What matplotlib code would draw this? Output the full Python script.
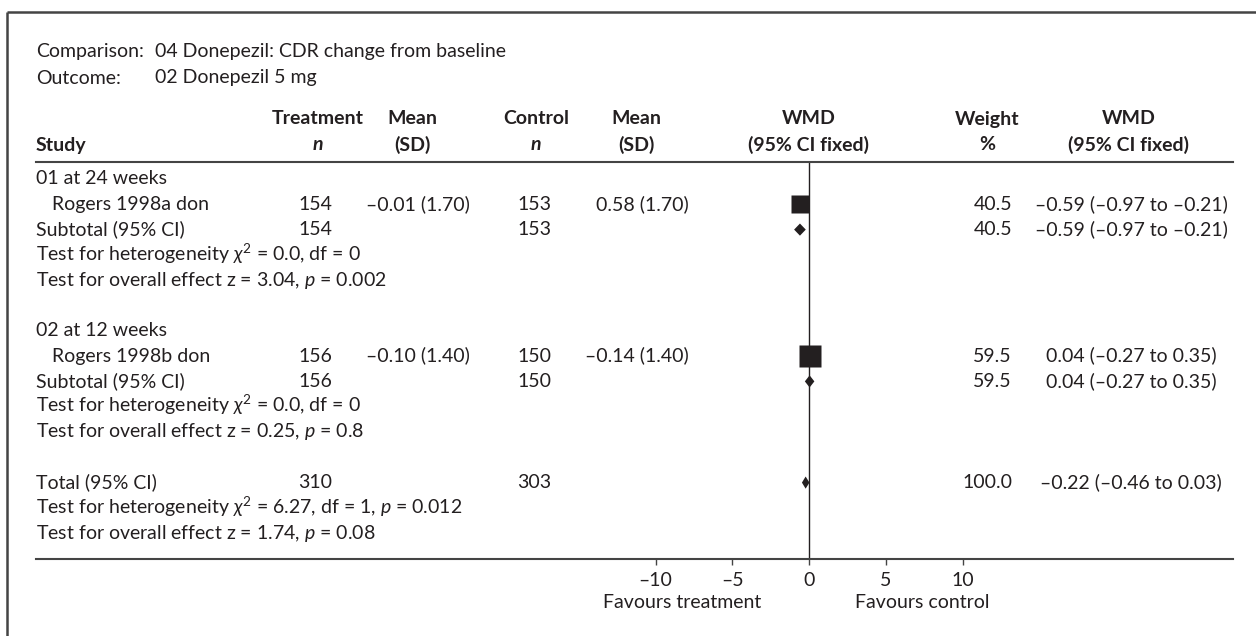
import numpy as np
import matplotlib.pyplot as plt

plt.rcParams['font.family'] = ['Lato', 'DejaVu Sans']
plt.rcParams['mathtext.fontset'] = 'custom'
plt.rcParams['mathtext.rm'] = 'Lato'
plt.rcParams['mathtext.it'] = 'Lato:italic'
plt.rcParams['mathtext.bf'] = 'Lato:bold'

# ---- data ----
comparison = "04 Donepezil: CDR change from baseline"
outcome = "02 Donepezil 5 mg"
groups = ["01 at 24 weeks", "02 at 12 weeks"]
studies = ["Rogers 1998a don", "Rogers 1998b don"]
trt_n = [154, 156]
trt_mean = [-0.01, -0.10]
trt_sd = [1.70, 1.40]
ctl_n = [153, 150]
ctl_mean = [0.58, -0.14]
ctl_sd = [1.70, 1.40]
wmd = [-0.59, 0.04]
wmd_lo = [-0.97, -0.27]
wmd_hi = [-0.21, 0.35]
weight = [40.5, 59.5]
het_chi2 = ["0.0", "0.0"]
het_df = [0, 0]
eff_z = ["3.04", "0.25"]
eff_p = ["0.002", "0.8"]

total_trt_n = 310
total_ctl_n = 303
total_wmd = -0.22
total_lo = -0.46
total_hi = 0.03
total_weight = 100.0
total_chi2 = "6.27"
total_df = 1
total_het_p = "0.012"
total_z = "1.74"
total_p = "0.08"

xticks = [-10, -5, 0, 5, 10]
xticklabels = ["–10", "–5", "0", "5", "10"]

INK = '#231f20'
FS = 14


def num(v):
    return f"{v:.2f}".replace("-", "–")


def ci(m, lo, hi):
    return f"{num(m)} ({num(lo)} to {num(hi)})"


# ---- layout (pixels) ----
W, H = 1256, 636
fig = plt.figure(figsize=(W / 100, H / 100), dpi=100)
ov = fig.add_axes([0, 0, 1, 1])
ov.set_xlim(0, W)
ov.set_ylim(H, 0)
ov.axis('off')

ROW0, ROWH = 179, 25.3
LEFT, RIGHT, TOP, BOTTOM = 36, 1233, 162, 559
ZERO, UNIT = 809, 15.35


def ry(r):
    return ROW0 + ROWH * r + 5.5


def txt(x, r, s, ha='left', **kw):
    ov.text(x, ry(r), s, ha=ha, va='baseline', fontsize=FS, color=INK, **kw)


# frame
ov.plot([7, 7], [12, H], color='#444444', lw=1.8, solid_capstyle='butt')
ov.plot([7, W], [12, 12], color='#444444', lw=1.8, solid_capstyle='butt')

# title lines
ov.text(LEFT, 57.5, "Comparison:", fontsize=FS, color=INK, va='baseline')
ov.text(155, 57.5, comparison, fontsize=FS, color=INK, va='baseline')
ov.text(LEFT, 83.5, "Outcome:", fontsize=FS, color=INK, va='baseline')
ov.text(155, 83.5, outcome, fontsize=FS, color=INK, va='baseline')

# column headers
h1, h2 = 124.5, 150.5
hk = dict(fontsize=FS, color=INK, va='baseline', fontweight='bold')
ov.text(LEFT, h2, "Study", ha='left', **hk)
ov.text(318, h1, "Treatment", ha='center', **hk)
ov.text(318, h2, "n", ha='center', fontstyle='italic', **hk)
ov.text(412, h1, "Mean", ha='center', **hk)
ov.text(412, h2, "(SD)", ha='center', **hk)
ov.text(536, h1, "Control", ha='center', **hk)
ov.text(536, h2, "n", ha='center', fontstyle='italic', **hk)
ov.text(636, h1, "Mean", ha='center', **hk)
ov.text(636, h2, "(SD)", ha='center', **hk)
ov.text(ZERO, h1, "WMD", ha='center', **hk)
ov.text(ZERO, h2, "(95% CI fixed)", ha='center', **hk)
ov.text(987, h1, "Weight", ha='center', **hk)
ov.text(987, h2, "%", ha='center', **hk)
ov.text(1129, h1, "WMD", ha='center', **hk)
ov.text(1129, h2, "(95% CI fixed)", ha='center', **hk)

# ---- forest axes ----
ax = fig.add_axes([LEFT / W, 1 - BOTTOM / H, (RIGHT - LEFT) / W, (BOTTOM - TOP) / H])
ax.patch.set_alpha(0)
ax.set_xlim((LEFT - ZERO) / UNIT, (RIGHT - ZERO) / UNIT)
ax.set_ylim((BOTTOM - ROW0) / ROWH, (TOP - ROW0) / ROWH)
for side in ['left', 'right']:
    ax.spines[side].set_visible(False)
for side in ['top', 'bottom']:
    ax.spines[side].set_color('#444444')
    ax.spines[side].set_linewidth(1.5)
ax.set_yticks([])
ax.set_xticks(xticks)
ax.set_xticklabels(xticklabels)
ax.tick_params(axis='x', direction='out', length=4.5, width=1, color='#444444',
               labelsize=FS, labelcolor=INK, pad=5)
ax.axvline(0, color=INK, lw=1)


def diamond(m, lo, hi, r):
    ax.fill([lo, m, hi, m], [r, r - 0.24, r, r + 0.24], color=INK, lw=0)


for i in range(len(studies)):
    base = i * 6
    txt(LEFT, base, groups[i])
    txt(52, base + 1, studies[i])
    txt(332, base + 1, str(trt_n[i]), ha='right')
    txt(470, base + 1, f"{num(trt_mean[i])} ({trt_sd[i]:.2f})", ha='right')
    txt(551, base + 1, str(ctl_n[i]), ha='right')
    txt(689, base + 1, f"{num(ctl_mean[i])} ({ctl_sd[i]:.2f})", ha='right')
    txt(1012, base + 1, f"{weight[i]:.1f}", ha='right')
    txt(1131, base + 1, ci(wmd[i], wmd_lo[i], wmd_hi[i]), ha='center')
    ax.plot([wmd_lo[i], wmd_hi[i]], [base + 1, base + 1], color=INK, lw=1)
    ax.plot(wmd[i], base + 1, marker='s', ms=2.05 * np.sqrt(weight[i]),
            color=INK, mec='none')

    txt(LEFT, base + 2, "Subtotal (95% CI)")
    txt(332, base + 2, str(trt_n[i]), ha='right')
    txt(551, base + 2, str(ctl_n[i]), ha='right')
    txt(1012, base + 2, f"{weight[i]:.1f}", ha='right')
    txt(1131, base + 2, ci(wmd[i], wmd_lo[i], wmd_hi[i]), ha='center')
    diamond(wmd[i], wmd_lo[i], wmd_hi[i], base + 2)

    txt(LEFT, base + 3, f"Test for heterogeneity $\\chi^2$ = {het_chi2[i]}, df = {het_df[i]}")
    txt(LEFT, base + 4, f"Test for overall effect z = {eff_z[i]}, $p$ = {eff_p[i]}")

# total
txt(LEFT, 12, "Total (95% CI)")
txt(332, 12, str(total_trt_n), ha='right')
txt(551, 12, str(total_ctl_n), ha='right')
txt(1012, 12, f"{total_weight:.1f}", ha='right')
txt(1131, 12, ci(total_wmd, total_lo, total_hi), ha='center')
diamond(total_wmd, total_lo, total_hi, 12)
txt(LEFT, 13, f"Test for heterogeneity $\\chi^2$ = {total_chi2}, df = {total_df}, $p$ = {total_het_p}")
txt(LEFT, 14, f"Test for overall effect z = {total_z}, $p$ = {total_p}")

# favours labels
ov.text(682, 607.5, "Favours treatment", ha='center', va='baseline', fontsize=FS, color=INK)
ov.text(922, 607.5, "Favours control", ha='center', va='baseline', fontsize=FS, color=INK)

fig.savefig('out.png', dpi=100)
